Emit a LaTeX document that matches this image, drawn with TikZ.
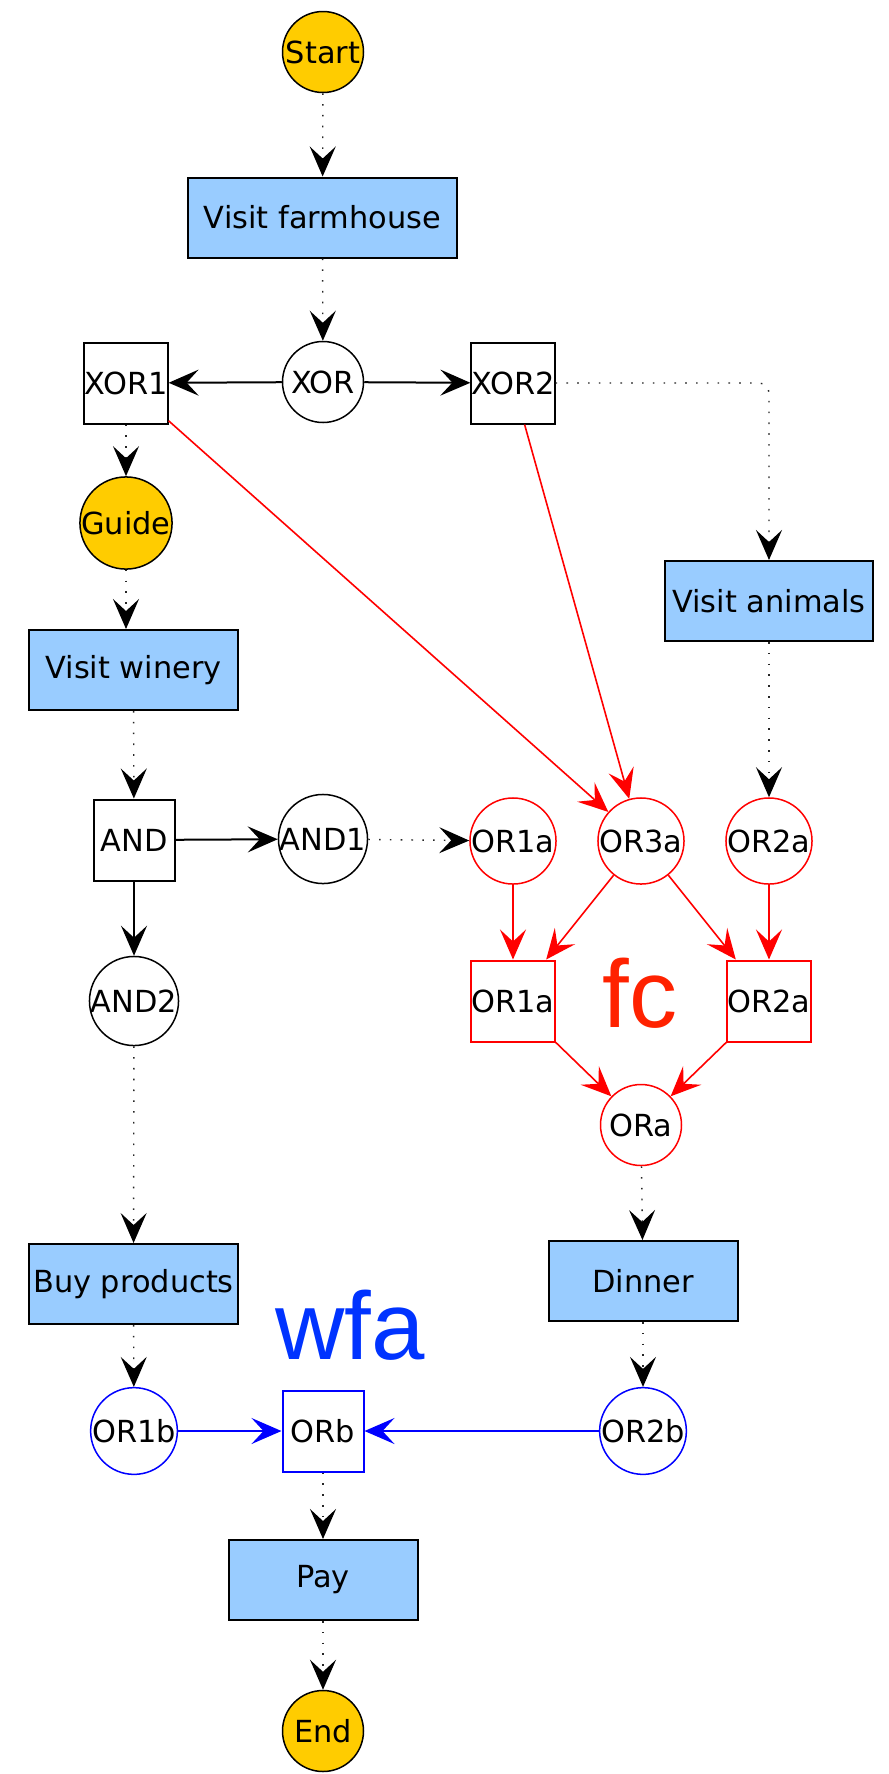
\documentclass[tikz,border=0pt]{standalone}
\usepackage{fontspec}
\setmainfont{DejaVu Sans}
\newfontfamily\labelfont{Liberation Sans}
\usetikzlibrary{arrows.meta}
\definecolor{gold}{HTML}{FFCC00}
\definecolor{taskblue}{HTML}{99CCFF}
\definecolor{fcred}{HTML}{FF2200}
\definecolor{wfablue}{HTML}{0033FF}
\begin{document}
\begin{tikzpicture}[x=0.5pt,y=-0.5pt,
  every node/.style={font=\fontsize{15.2}{18}\selectfont, text=black, inner sep=0pt},
  event/.style={circle, draw=black, fill=gold, line width=0.75pt, minimum size=40.5pt},
  gate/.style={circle, draw=#1, line width=0.75pt, minimum size=40.5pt},
  gate/.default=black,
  gbox/.style={rectangle, draw=#1, line width=1pt, minimum size=40.5pt},
  gbox/.default=black,
  task/.style={rectangle, draw=black, fill=taskblue, line width=1pt, minimum height=40pt},
  flow/.style={-{Stealth[length=15pt,width=13pt,inset=6pt,color=black]}, line width=0.7pt, dash pattern=on 0.8pt off 4.6pt, draw=black!85},
  link/.style={-{Stealth[length=15pt,width=13pt,inset=6pt]}, line width=1pt, draw=#1},
  rlink/.style={-{Stealth[length=15pt,width=13pt,inset=6pt]}, line width=0.8pt, draw=#1},
  biglabel/.style={font=\labelfont\fontsize{48}{48}\selectfont, text=#1},
]
\useasboundingbox (0,0) rectangle (889,1774);
\node[event] (start) at (323,52) {Start};
\node[task, minimum width=134.5pt] (farm) at (322.5,217.5) {Visit farmhouse};
\node[gate] (xor) at (323,382) {XOR};
\node[gbox] (xor1) at (126,383) {XOR1};
\node[gbox] (xor2) at (513,383) {XOR2};
\node[event] (guide) at (126,523) {Guide};
\node[task, minimum width=104pt] (animals) at (769,601) {Visit animals};
\node[task, minimum width=104.5pt] (winery) at (133.5,670) {Visit winery};
\node[gbox] (and) at (134,840) {AND};
\node[gate] (and1) at (323,839) {AND1};
\node[gate=red] (or1a) at (513,841) {OR1a};
\node[gate=red] (or3a) at (641,841) {OR3a};
\node[gate=red] (or2a) at (769,841) {OR2a};
\node[gate] (and2) at (134,1001) {AND2};
\node[gbox=red] (or1ab) at (513,1001) {OR1a};
\node[gbox=red] (or2ab) at (769,1001) {OR2a};
\node[gate=red] (ora) at (641,1125) {ORa};
\node[biglabel=fcred] (fc) at (640,993) {fc};
\node[task, minimum width=104.5pt] (buy) at (133.5,1284) {Buy products};
\node[task, minimum width=94.5pt] (dinner) at (643,1281) {Dinner};
\node[biglabel=wfablue] (wfa) at (350,1325) {wfa};
\node[gate=blue] (or1b) at (134,1431) {OR1b};
\node[gbox=blue] (orb) at (323,1431) {ORb};
\node[gate=blue] (or2b) at (643,1431) {OR2b};
\node[task, minimum width=94.5pt] (pay) at (323,1580) {Pay};
\node[event] (end) at (323,1731) {End};

\draw[flow] (start) -- (farm);
\draw[flow] (farm) -- (xor);
\draw[link=black] (xor) -- (xor1);
\draw[link=black] (xor) -- (xor2);
\draw[flow, rounded corners=5pt] (xor2) -| (animals);
\draw[flow] (xor1) -- (guide);
\draw[flow] (guide) -- (guide |- winery.north);
\draw[flow] (winery) -- (and);
\draw[link=black] (and) -- (and1);
\draw[flow] (and1) -- (or1a);
\draw[link=black] (and) -- (and2);
\draw[flow] (and2) -- (buy);
\draw[flow] (animals) -- (or2a);
\draw[rlink=red] (xor1) -- (or3a);
\draw[rlink=red] (xor2) -- (or3a);
\draw[rlink=red] (or1a) -- (or1ab);
\draw[rlink=red] (or3a) -- (or1ab);
\draw[rlink=red] (or3a) -- (or2ab);
\draw[rlink=red] (or2a) -- (or2ab);
\draw[rlink=red] (or1ab) -- (ora);
\draw[rlink=red] (or2ab) -- (ora);
\draw[flow] (ora) -- (dinner);
\draw[flow] (buy) -- (or1b);
\draw[flow] (dinner) -- (or2b);
\draw[link=blue] (or1b) -- (orb);
\draw[link=blue] (or2b) -- (orb);
\draw[flow] (orb) -- (pay);
\draw[flow] (pay) -- (end);
\end{tikzpicture}
\end{document}
